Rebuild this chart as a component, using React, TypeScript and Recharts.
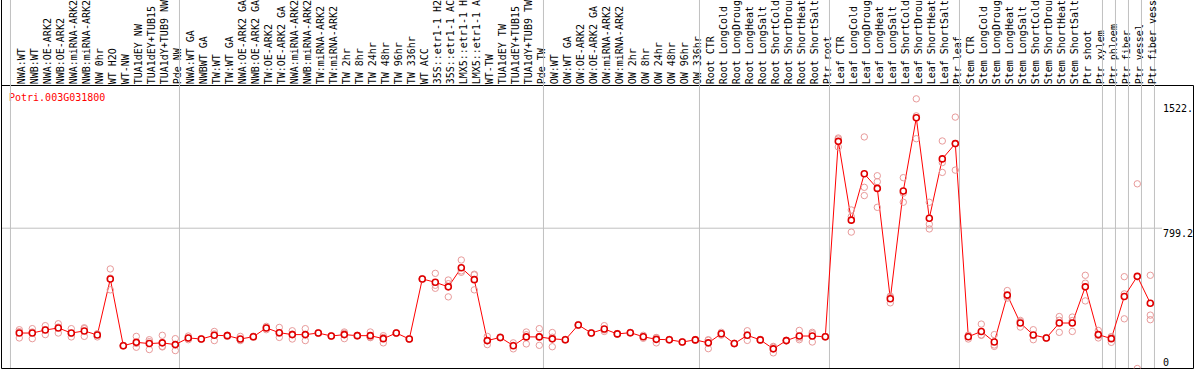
import React from "react";
import { ComposedChart, Line, Scatter, XAxis, YAxis, ReferenceLine } from "recharts";

const GENE = "Potri.003G031800";

// sample names as far as they are visible above the plot
const LABELS: string[] = [
  "NWA:WT", "NWB:WT", "NWA:OE-ARK2", "NWB:OE-ARK2", "NWA:miRNA-ARK2", "NWB:miRNA-ARK2",
  "NW 0hr", "WT H2O", "WT-NW", "TUA1dEY NW", "TUA1dEY+TUB15", "TUA1dY+TUB9 NW", "Pde NW",
  "NWA:WT GA", "NWBWT GA", "TW:WT", "TW:WT GA", "NWA:OE-ARK2 GA", "NWB:OE-ARK2 GA",
  "TW:OE-ARK2", "TW:OE-ARK2 GA", "NWA:miRNA-ARK2", "NWB:miRNA-ARK2", "TW:miRNA-ARK2",
  "TW:miRNA-ARK2", "TW 2hr", "TW 8hr", "TW 24hr", "TW 48hr", "TW 96hr", "TW 336hr", "WT ACC",
  "35S::etr1-1 H2", "35S::etr1-1 AC", "LMX5::etr1-1 H", "LMX5::etr1-1 A", "WT-TW",
  "TUA1dEY TW", "TUA1dEY+TUB15", "TUA1dY+TUB9 TW", "Pde TW",
  "OW:WT", "OW:WT GA", "OW:OE-ARK2", "OW:OE-ARK2 GA", "OW:miRNA-ARK2", "OW:miRNA-ARK2",
  "OW 2hr", "OW 8hr", "OW 24hr", "OW 48hr", "OW 96hr", "OW 336hr",
  "Root CTR", "Root LongCold", "Root LongDroug", "Root LongHeat", "Root LongSalt",
  "Root ShortCold", "Root ShortDrou", "Root ShortHeat", "Root ShortSalt", "Ptr root",
  "Leaf CTR", "Leaf LongCold", "Leaf LongDroug", "Leaf LongHeat", "Leaf LongSalt",
  "Leaf ShortCold", "Leaf ShortDrou", "Leaf ShortHeat", "Leaf ShortSalt", "Ptr leaf",
  "Stem CTR", "Stem LongCold", "Stem LongDroug", "Stem LongHeat", "Stem LongSalt",
  "Stem ShortCold", "Stem ShortDrou", "Stem ShortHeat", "Stem ShortSalt", "Ptr shoot",
  "Ptr xylem", "Ptr phloem", "Ptr fiber", "Ptr vessel", "Ptr fiber vess",
];

// first category of each group, plus the end
const GROUP_STARTS: number[] = [0, 13, 41, 53, 63, 73, 84, 85, 86, 87, 88];

const MEANS: number[] = [
  202, 202, 219, 231, 202, 214, 191, 510, 130, 149, 142, 146, 136,
  174, 168, 189, 187, 168, 181, 231, 204, 193, 193, 202, 185, 193, 187, 187, 170, 202, 168,
  510, 491, 465, 574, 506, 159, 177, 130, 180, 180,
  169, 164, 248, 202, 225, 197, 204, 181, 166, 164, 151, 163,
  146, 198, 142, 189, 163, 112, 159, 185, 185, 181,
  1294, 845, 1109, 1026, 397, 1011, 1428, 856, 1194, 1281,
  181, 211, 151, 418, 259, 191, 174, 259, 259, 465, 193,
  170, 410, 525, 372,
];

const REP_A: number[] = [
  221, 227, 244, 255, 227, 227, 198, 567, 128, 183, 164, 189, 170,
  185, 166, 211, 183, 183, 178, 240, 234, 215, 227, 200, 183, 208, 185, 208, 187, 200, 166,
  508, 542, 504, 618, 533, 183, 174, 146, 208, 227,
  205, 162, 246, 200, 244, 195, 202, 189, 146, 162, 149, 161,
  164, 206, 140, 215, 166, 126, 157, 217, 206, 179,
  1313, 903, 1319, 1098, 374, 1087, 1536, 947, 1296, 1432,
  168, 253, 193, 444, 274, 221, 172, 296, 293, 531, 217,
  149, 523, 1052, 531,
];

const REP_B: number[] = [
  174, 170, 193, 202, 180, 183, 180, 448, 132, 121, 108, 126, 102,
  164, 170, 159, 190, 159, 184, 221, 177, 168, 159, 204, 187, 170, 189, 177, 146, 204, 170,
  512, 457, 408, 548, 448, 136, 180, 112, 140, 132,
  124, 166, 250, 204, 211, 199, 206, 172, 176, 166, 153, 165,
  113, 190, 144, 160, 160, 89, 161, 174, 151, 183,
  1262, 865, 1032, 1064, 405, 947, 1309, 822, 1173, 1130,
  190, 189, 126, 401, 236, 164, 176, 206, 211, 486, 174,
  180, 425, 0, 304,
];

const REP_C: number[] = [
  210, 208, 221, 236, 200, 232, 195, 515, 130, 143, 153, 123, 136,
  173, 168, 197, 188, 162, 181, 232, 201, 196, 193, 202, 185, 201, 187, 176, 177, 202, 168,
  510, 474, 483, 556, 537, 158, 177, 132, 192, 181,
  178, 164, 248, 202, 220, 197, 204, 182, 176, 164, 151, 163,
  161, 198, 142, 192, 163, 121, 159, 164, 198, 181,
  1307, 777, 985, 918, 412, 999, 1439, 795, 1117, 1281,
  185, 191, 134, 409, 267, 188, 174, 275, 273, 385, 188,
  181, 283, 523, 278,
];

const Y_TICKS: number[] = [0, 799.2, 1522];
const Y_TICK_TEXT: string[] = ["0", "799.2", "1522."];
const GRID_VALUE = 799.2;

// layout
const W = 1194;
const H = 370;
const FIRST_X = 19.3;
const STEP = 13;
const PLOT_LEFT = 1.5;
const PLOT_RIGHT = 1193.5;
const X_MIN = (PLOT_LEFT - FIRST_X) / STEP;
const X_MAX = (PLOT_RIGHT - FIRST_X) / STEP;
const SEP_OFFSET = 0.68;
const MONO = "'DejaVu Sans Mono', monospace";
const GREY = "#c0c0c0";
const Y_LABEL_DY: Record<string, number> = { "0": -3, "799.2": 8.5, "1522": 10.5 };

const meanData = MEANS.map((v, i) => ({ i, v }));
const repData = [REP_A, REP_B, REP_C].flatMap((arr) => arr.map((v, i) => ({ i, v })));
const tickIdx = LABELS.map((_l, i) => i);

const CategoryTick = (props: any) => {
  const { x, payload } = props;
  const i = payload.value as number;
  const sep = x - SEP_OFFSET * STEP;
  const end = x + (1 - SEP_OFFSET) * STEP;
  return (
    <g>
      {i === 0 && <line x1={PLOT_LEFT} x2={PLOT_LEFT} y1={0} y2={86} stroke="#000" />}
      {GROUP_STARTS.includes(i) && <line x1={sep} x2={sep} y1={0} y2={86} stroke={GREY} />}
      {i === LABELS.length - 1 && <line x1={end} x2={end} y1={0} y2={86} stroke={GREY} />}
      <text
        transform={`translate(${x + 6},84.3) rotate(-90)`}
        fontSize={10}
        fontFamily={MONO}
        fill="#000"
        textAnchor="start"
      >
        {LABELS[i]}
      </text>
    </g>
  );
};

const ValueTick = (props: any) => {
  const { y, payload } = props;
  const idx = Y_TICKS.indexOf(payload.value);
  const txt = Y_TICK_TEXT[idx] ?? String(payload.value);
  return (
    <text
      x={1163}
      y={y + (Y_LABEL_DY[String(payload.value)] ?? 4)}
      fontSize={10}
      fontFamily={MONO}
      fill="#000"
      textAnchor="start"
    >
      {txt}
    </text>
  );
};

const RepDot = (props: any) => (
  <circle cx={props.cx} cy={props.cy} r={3.2} fill="none" stroke="#e89a9a" strokeWidth={1} />
);

export default function App() {
  return (
    <div style={{ position: "absolute", left: 0, top: 0, background: "#fff" }}>
      <ComposedChart
        width={W}
        height={H}
        margin={{ top: 0, right: W - PLOT_RIGHT, bottom: 1.5, left: PLOT_LEFT }}
      >
        <XAxis
          type="number"
          dataKey="i"
          orientation="top"
          height={85.5}
          domain={[X_MIN, X_MAX]}
          ticks={tickIdx}
          interval={0}
          tick={<CategoryTick />}
          tickLine={false}
          axisLine={{ stroke: "#000" }}
          allowDataOverflow
        />
        <YAxis
          type="number"
          dataKey="v"
          orientation="right"
          mirror
          domain={[0, 1612]}
          ticks={Y_TICKS}
          interval={0}
          tick={<ValueTick />}
          tickLine={false}
          axisLine={{ stroke: "#000" }}
          allowDataOverflow
        />
        {GROUP_STARTS.map((k) => (
          <ReferenceLine key={`sep-${k}`} x={k - SEP_OFFSET} stroke={GREY} />
        ))}
        <ReferenceLine
          segment={[
            { x: X_MIN, y: GRID_VALUE },
            { x: (1162 - FIRST_X) / STEP, y: GRID_VALUE },
          ]}
          stroke={GREY}
        />
        <ReferenceLine x={X_MIN} stroke="#000" />
        <ReferenceLine y={0} stroke="#000" />
        <Scatter data={repData} dataKey="v" shape={<RepDot />} isAnimationActive={false} />
        <Line
          data={meanData}
          dataKey="v"
          type="linear"
          stroke="#ff0000"
          strokeWidth={1}
          dot={{ r: 3, stroke: "#e00000", strokeWidth: 1.6, fill: "#fff" }}
          activeDot={false}
          isAnimationActive={false}
        />
        <text x={9} y={100.5} fontSize={10} fontFamily={MONO} fill="#ff0000">
          {GENE}
        </text>
      </ComposedChart>
    </div>
  );
}
